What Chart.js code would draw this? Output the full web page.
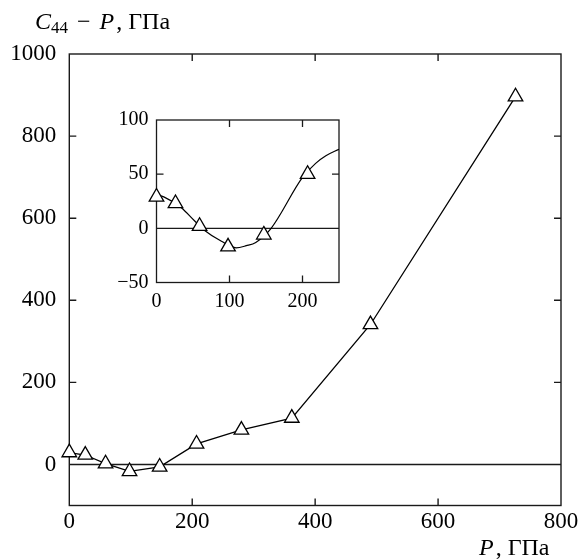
<!DOCTYPE html>
<html><head><meta charset="utf-8">
<script src="https://cdn.jsdelivr.net/npm/chart.js@4/dist/chart.umd.min.js"></script>
<style>
html,body{margin:0;padding:0;background:#fff;}
#wrap{position:relative;width:579px;height:560px;overflow:hidden;}
#main{position:absolute;left:0;top:0;}
#inset{position:absolute;left:100px;top:105px;}
</style></head><body>
<div id="wrap"><canvas id="main" width="579" height="560"></canvas><canvas id="inset" width="250" height="210"></canvas></div>
<script>
// Data
const pressure = [0, 26, 59, 98, 147, 207, 280, 362, 490, 726];          // P, GPa
const c44MinusP = [29, 23, 2, -17, -6, 50, 84, 113, 341, 896];          // C44 - P, GPa
const insetCount = 6;                                                    // points shown in the inset
const curveP = [0, 10, 34, 52, 66, 89, 109, 123, 136, 157, 200, 218, 232, 250];
const curveC = [31, 29, 19, 7, -2, -12, -18, -16, -13, 0, 47, 60, 67, 73];
const mainXTicks = [0, 200, 400, 600, 800];
const mainYTicks = [0, 200, 400, 600, 800, 1000];
const insetXTicks = [0, 100, 200];
const insetYTicks = [-50, 0, 50, 100];

const FONT = 'Liberation Serif';
const INK = '#000';
const fmt = v => v < 0 ? '\u2212' + Math.abs(v) : String(v);
const noPadX = s => { s.paddingLeft = 0; s.paddingRight = 0; };
const noPadY = s => { s.paddingTop = 0; s.paddingBottom = 0; };

function frameAndTicks(tickLen, width) {
  return {
    id: 'frameTicks',
    beforeDatasetsDraw(chart) {
      const {ctx, chartArea: a, scales: {x, y}} = chart;
      ctx.save();
      ctx.strokeStyle = '#1a1a1a';
      ctx.lineWidth = width;
      ctx.lineCap = 'butt';
      const y0 = y.getPixelForValue(0);
      ctx.beginPath(); ctx.moveTo(a.left, y0); ctx.lineTo(a.right, y0); ctx.stroke();
      ctx.strokeRect(a.left, a.top, a.right - a.left, a.bottom - a.top);
      ctx.beginPath();
      x.ticks.forEach(t => {
        if (t.value <= x.min || t.value >= x.max) return;
        const px = x.getPixelForValue(t.value);
        ctx.moveTo(px, a.bottom); ctx.lineTo(px, a.bottom - tickLen);
        ctx.moveTo(px, a.top); ctx.lineTo(px, a.top + tickLen);
      });
      y.ticks.forEach(t => {
        if (t.value <= y.min || t.value >= y.max || t.value === 0) return;
        const py = y.getPixelForValue(t.value);
        ctx.moveTo(a.left, py); ctx.lineTo(a.left + tickLen, py);
        ctx.moveTo(a.right, py); ctx.lineTo(a.right - tickLen, py);
      });
      ctx.stroke();
      ctx.restore();
    }
  };
}

const titles = {
  id: 'titles',
  afterDraw(chart) {
    const ctx = chart.ctx;
    ctx.save();
    ctx.fillStyle = INK;
    ctx.textBaseline = 'alphabetic';
    ctx.textAlign = 'left';
    let xp = 35, base = 29;
    const parts = [
      ['italic 24px ' + FONT, 'C', 0, 0],
      ['17px ' + FONT, '44', 4, 9],
      ['24px ' + FONT, '\u2212', 0, 9],
      ['italic 24px ' + FONT, 'P', 0, 2],
      ['24px ' + FONT, ', \u0413\u041F\u0430', 0, 0]
    ];
    parts.forEach(([f, s, dy, gap]) => {
      ctx.font = f;
      ctx.fillText(s, xp, base + dy);
      xp += ctx.measureText(s).width + gap;
    });
    xp = 479; base = 555;
    [['italic 24px ' + FONT, 'P', 2], ['24px ' + FONT, ', \u0413\u041F\u0430', 0]].forEach(([f, s, gap]) => {
      ctx.font = f;
      ctx.fillText(s, xp, base);
      xp += ctx.measureText(s).width + gap;
    });
    ctx.restore();
  }
};

const mainPoints = pressure.map((p, i) => ({x: p, y: c44MinusP[i]}));
new Chart(document.getElementById('main'), {
  type: 'scatter',
  data: {datasets: [{
    data: mainPoints,
    showLine: true,
    borderColor: INK, borderWidth: 1.3,
    pointStyle: 'triangle', pointRadius: 8.4, pointHoverRadius: 8.4,
    pointBackgroundColor: '#fff', pointBorderColor: INK, pointBorderWidth: 1.3,
    tension: 0, clip: false
  }]},
  options: {
    responsive: false, animation: false,
    layout: {padding: {left: 0, right: 18, top: 54, bottom: 0}},
    plugins: {legend: {display: false}, tooltip: {enabled: false}},
    events: [],
    scales: {
      x: {
        type: 'linear', min: 0, max: 800,
        grid: {display: false}, border: {display: false},
        afterBuildTicks: s => { s.ticks = mainXTicks.map(v => ({value: v})); },
        afterFit: s => { s.height = 54.5; noPadX(s); },
        ticks: {color: INK, font: {family: FONT, size: 23}, padding: -5, maxRotation: 0, autoSkip: false, callback: fmt}
      },
      y: {
        type: 'linear', min: -100, max: 1000,
        grid: {display: false}, border: {display: false},
        afterBuildTicks: s => { s.ticks = mainYTicks.map(v => ({value: v})); },
        afterFit: s => { s.width = 69.3; noPadY(s); },
        ticks: {color: INK, font: {family: FONT, size: 23}, padding: 5, autoSkip: false, callback: fmt}
      }
    }
  },
  plugins: [frameAndTicks(7, 1.4), titles]
});

const insetPoints = pressure.slice(0, insetCount).map((p, i) => ({x: p, y: c44MinusP[i]}));
const curvePoints = curveP.map((p, i) => ({x: p, y: curveC[i]}));
new Chart(document.getElementById('inset'), {
  type: 'scatter',
  data: {datasets: [
    {
      data: insetPoints, showLine: false,
      pointStyle: 'triangle', pointRadius: 8.4, pointHoverRadius: 8.4,
      pointBackgroundColor: '#fff', pointBorderColor: INK, pointBorderWidth: 1.3,
      clip: false
    },
    {
      data: curvePoints, showLine: true,
      borderColor: INK, borderWidth: 1.2, pointRadius: 0, pointHoverRadius: 0,
      tension: 0.4, cubicInterpolationMode: 'monotone'
    }
  ]},
  options: {
    responsive: false, animation: false,
    layout: {padding: {left: 0, right: 11, top: 15, bottom: 0}},
    plugins: {legend: {display: false}, tooltip: {enabled: false}},
    events: [],
    scales: {
      x: {
        type: 'linear', min: 0, max: 250,
        grid: {display: false}, border: {display: false},
        afterBuildTicks: s => { s.ticks = insetXTicks.map(v => ({value: v})); },
        afterFit: s => { s.height = 32.5; noPadX(s); },
        ticks: {color: INK, font: {family: FONT, size: 20}, padding: -1, maxRotation: 0, autoSkip: false, callback: fmt}
      },
      y: {
        type: 'linear', min: -50, max: 100,
        grid: {display: false}, border: {display: false},
        afterBuildTicks: s => { s.ticks = insetYTicks.map(v => ({value: v})); },
        afterFit: s => { s.width = 56.5; noPadY(s); },
        ticks: {color: INK, font: {family: FONT, size: 20}, padding: 0, autoSkip: false, callback: fmt}
      }
    }
  },
  plugins: [frameAndTicks(7, 1.3)]
});
</script>
</body></html>
